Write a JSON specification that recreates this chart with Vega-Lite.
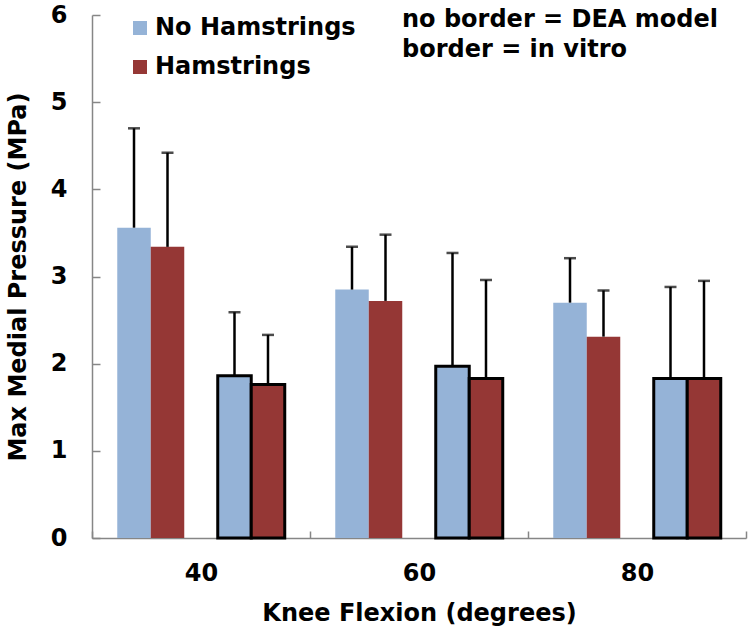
{
  "$schema": "https://vega.github.io/schema/vega-lite/v6.json",
  "width": 654,
  "height": 523,
  "autosize": {"type": "none"},
  "padding": {"left": 92, "top": 15, "right": 4, "bottom": 92},
  "background": "white",
  "config": {
    "view": {"stroke": null},
    "font": "DejaVu Sans",
    "axis": {"grid": false, "domainColor": "#868686", "tickColor": "#868686", "domainWidth": 1.5, "tickWidth": 1.5,
      "labelFont": "DejaVu Sans", "labelFontWeight": "bold", "labelFontSize": 24, "labelColor": "black",
      "titleFont": "DejaVu Sans", "titleFontWeight": "bold", "titleFontSize": 24, "titleColor": "black"}
  },
  "datasets": {
    "bars": [
      {"angle": "40", "src": "DEA", "cond": "No Hamstrings", "slot": "DEA NH", "value": 3.56, "hi": 4.70},
      {"angle": "40", "src": "DEA", "cond": "Hamstrings", "slot": "DEA H", "value": 3.34, "hi": 4.42},
      {"angle": "40", "src": "in vitro", "cond": "No Hamstrings", "slot": "IV NH", "value": 1.86, "hi": 2.59},
      {"angle": "40", "src": "in vitro", "cond": "Hamstrings", "slot": "IV H", "value": 1.76, "hi": 2.33},
      {"angle": "60", "src": "DEA", "cond": "No Hamstrings", "slot": "DEA NH", "value": 2.85, "hi": 3.34},
      {"angle": "60", "src": "DEA", "cond": "Hamstrings", "slot": "DEA H", "value": 2.72, "hi": 3.48},
      {"angle": "60", "src": "in vitro", "cond": "No Hamstrings", "slot": "IV NH", "value": 1.97, "hi": 3.27},
      {"angle": "60", "src": "in vitro", "cond": "Hamstrings", "slot": "IV H", "value": 1.83, "hi": 2.96},
      {"angle": "80", "src": "DEA", "cond": "No Hamstrings", "slot": "DEA NH", "value": 2.70, "hi": 3.21},
      {"angle": "80", "src": "DEA", "cond": "Hamstrings", "slot": "DEA H", "value": 2.31, "hi": 2.84},
      {"angle": "80", "src": "in vitro", "cond": "No Hamstrings", "slot": "IV NH", "value": 1.83, "hi": 2.88},
      {"angle": "80", "src": "in vitro", "cond": "Hamstrings", "slot": "IV H", "value": 1.83, "hi": 2.95}
    ],
    "note": [
      {"angle": "60", "slot": "gap", "y": 5.86, "label": "no border = DEA model"},
      {"angle": "60", "slot": "gap", "y": 5.52, "label": "border = in vitro"}
    ]
  },
  "encoding": {
    "x": {"field": "angle", "type": "nominal",
      "scale": {"domain": ["40", "60", "80"], "paddingInner": 0, "paddingOuter": 0},
      "axis": {"title": "Knee Flexion (degrees)", "labelAngle": 0, "tickBand": "extent", "tickSize": -7, "labelPadding": 30.5, "titleY": 63}},
    "xOffset": {"field": "slot", "type": "nominal",
      "scale": {"domain": ["DEA NH", "DEA H", "gap", "IV NH", "IV H"], "paddingInner": 0, "paddingOuter": 0.754}}
  },
  "layer": [
    {
      "data": {"name": "bars"},
      "transform": [{"filter": "datum.src === 'DEA'"}],
      "mark": {"type": "bar", "strokeWidth": 0},
      "encoding": {
        "y": {"field": "value", "type": "quantitative",
          "scale": {"domain": [0, 6], "nice": false},
          "axis": {"title": "Max Medial Pressure (MPa)", "values": [0, 1, 2, 3, 4, 5, 6], "format": "d", "tickSize": -8, "labelPadding": 33, "titleX": -62}},
        "color": {"field": "cond", "type": "nominal",
          "scale": {"domain": ["No Hamstrings", "Hamstrings"], "range": ["#95B3D7", "#953735"]},
          "legend": {"title": null, "orient": "none", "legendX": 36, "legendY": 1, "padding": 0,
            "symbolType": "square", "symbolSize": 196, "symbolStrokeWidth": 0, "symbolOpacity": 1,
            "labelFont": "DejaVu Sans", "labelFontWeight": "bold", "labelFontSize": 24, "labelColor": "black",
            "labelOffset": 3, "labelLimit": 400, "rowPadding": 15}}
      }
    },
    {
      "data": {"name": "bars"},
      "transform": [{"filter": "datum.src === 'in vitro'"}],
      "mark": {"type": "bar", "stroke": "black", "strokeWidth": 3},
      "encoding": {
        "y": {"field": "value", "type": "quantitative"},
        "color": {"field": "cond", "type": "nominal"}
      }
    },
    {
      "data": {"name": "bars"},
      "mark": {"type": "rule", "color": "black", "strokeWidth": 2.5},
      "encoding": {
        "y": {"field": "value", "type": "quantitative"},
        "y2": {"field": "hi"}
      }
    },
    {
      "data": {"name": "bars"},
      "mark": {"type": "tick", "color": "black", "orient": "horizontal", "size": 12, "thickness": 2.5},
      "encoding": {
        "y": {"field": "hi", "type": "quantitative"}
      }
    },
    {
      "data": {"name": "note"},
      "mark": {"type": "text", "align": "left", "baseline": "alphabetic", "dx": -17, "font": "DejaVu Sans", "fontWeight": "bold", "fontSize": 24, "color": "black"},
      "encoding": {
        "y": {"field": "y", "type": "quantitative"},
        "text": {"field": "label"}
      }
    }
  ]
}
